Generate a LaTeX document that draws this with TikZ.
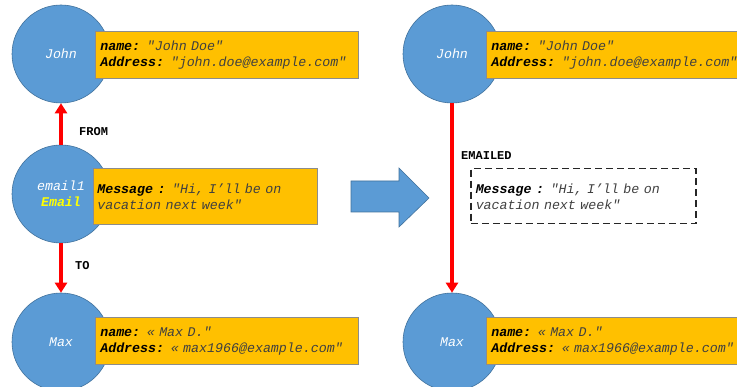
\documentclass[tikz,border=0pt]{standalone}
\usepackage{fontspec}
\setmonofont{Liberation Mono}
\usetikzlibrary{arrows.meta}
\definecolor{nodeblue}{HTML}{5B9BD5}
\definecolor{nodeedge}{HTML}{41719C}
\definecolor{propfill}{HTML}{FFC000}
\definecolor{propedge}{HTML}{8C8C8C}
\definecolor{valgray}{HTML}{404040}
\definecolor{labyellow}{HTML}{FFFF00}
\newcommand\keyt[1]{{\color{black}\bfseries\itshape #1}}
\newcommand\txtsize{\ttfamily\fontsize{13.3}{16}\selectfont}
\begin{document}
\begin{tikzpicture}[x=1pt,y=-1pt,
  ent/.style={circle, fill=nodeblue, draw=nodeedge, line width=0.6pt, minimum size=98pt, inner sep=0pt, font=\txtsize\itshape, text=white, align=center},
  prop/.style={rectangle, fill=propfill, draw=propedge, line width=0.6pt, anchor=north west, inner sep=5pt, align=left, font=\txtsize\itshape, text=valgray},
  dashprop/.style={rectangle, draw=black!85, dashed, dash pattern=on 7pt off 4pt, line width=1.5pt, anchor=north west, inner sep=5pt, align=left, font=\txtsize\itshape, text=valgray},
  rel/.style={draw=red, line width=4pt, -{Triangle[width=12pt,length=10pt]}},
  rellabel/.style={font=\ttfamily\fontsize{12}{14}\selectfont\bfseries, anchor=west, inner sep=0pt},
  bigarrow/.style={fill=nodeblue, draw=nodeedge, line width=0.6pt}
]
\useasboundingbox (0,0) rectangle (737,387);
\clip (0,0) rectangle (737,387);

% left side
\node[ent] (johnL) at (61,54) {John};
\node[ent] (emailL) at (61,194) {email1\\{\color{labyellow}\bfseries Email}};
\node[ent] (maxL) at (61,342) {Max};

\node[prop, minimum width=263pt, minimum height=47pt, text width=253pt] (johnLbox) at (95,31)
  {\keyt{name:} "John Doe"\\\keyt{Address:} "john.doe@example.com"};
\node[prop, minimum width=224pt, minimum height=56pt, text width=216pt, inner sep=4pt] (emailLbox) at (93,168)
  {\keyt{Message :} "Hi, I’ll be on\\vacation next week"};
\node[prop, minimum width=263pt, minimum height=47pt, text width=253pt] (maxLbox) at (95,317)
  {\keyt{name:} « Max D."\\\keyt{Address:} « max1966@example.com"};

\draw[rel] (emailL) -- (johnL);
\draw[rel] (emailL) -- (maxL);
\node[rellabel] (fromlab) at (79,132) {FROM};
\node[rellabel] (tolab) at (75,266) {TO};

% transformation arrow
\draw[bigarrow] (351,181) -- (399,181) -- (399,168) -- (429,198) -- (399,227) -- (399,212) -- (351,212) -- cycle;

% right side
\node[ent] (johnR) at (452,54) {John};
\node[ent] (maxR) at (452,342) {Max};

\node[prop, minimum width=263pt, minimum height=47pt, text width=253pt] (johnRbox) at (486,31)
  {\keyt{name:} "John Doe"\\\keyt{Address:} "john.doe@example.com"};
\node[prop, minimum width=263pt, minimum height=47pt, text width=253pt] (maxRbox) at (486,317)
  {\keyt{name:} « Max D."\\\keyt{Address:} « max1966@example.com"};

\draw[rel] (johnR) -- (maxR);
\node[rellabel] (emailedlab) at (461,156) {EMAILED};
\node[dashprop, minimum width=225pt, minimum height=55pt, text width=215pt] (msgR) at (470,168)
  {\keyt{Message :} "Hi, I’ll be on\\vacation next week"};
\end{tikzpicture}
\end{document}
